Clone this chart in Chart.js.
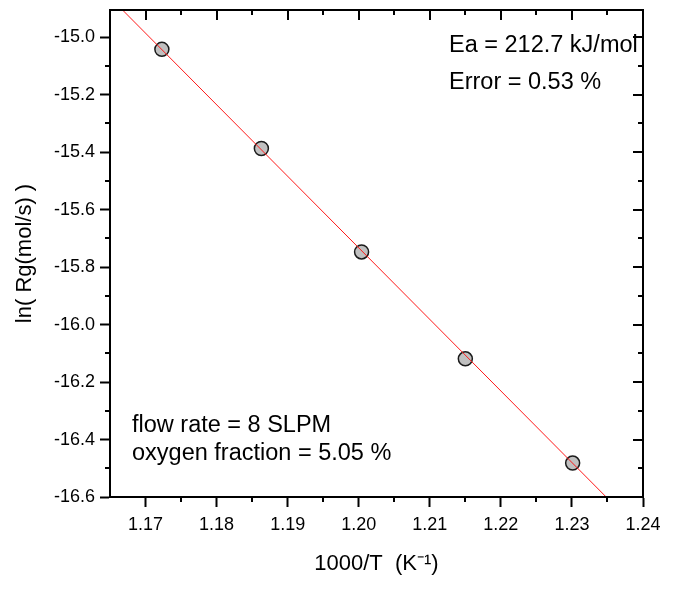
<!DOCTYPE html>
<html>
    <head>
        <title>Arrhenius plot</title>
        <meta charset="utf-8" />
        <script src="https://cdn.jsdelivr.net/npm/chart.js@4.4.0/dist/chart.umd.min.js"></script>
        <style>
            * {
                margin: 0;
                padding: 0;
                box-sizing: border-box;
            }
            body {
                background-color: #ffffff;
            }
        </style>
    </head>
    <body>

        <div style="position: relative; width: 689px; height: 614px;">
            <canvas id="myChart"></canvas>
        </div>

        <script>
            // measured points (1000/T, ln Rg)
            const invT = [1.1723, 1.1863, 1.2004, 1.2150, 1.2301];
            const lnRg = [-15.042, -15.387, -15.747, -16.119, -16.482];

            // fitted line, read at the two plot edges
            const fitX = [1.165, 1.24];
            const fitY = [-14.861, -16.729];

            const xTicks = [1.17, 1.18, 1.19, 1.20, 1.21, 1.22, 1.23, 1.24];
            const xMinor = [1.175, 1.185, 1.195, 1.205, 1.215, 1.225, 1.235];
            const yTicks = [-15.0, -15.2, -15.4, -15.6, -15.8, -16.0, -16.2, -16.4, -16.6];
            const yMinor = [-15.1, -15.3, -15.5, -15.7, -15.9, -16.1, -16.3, -16.5];

            const notesTopRight = ['Ea = 212.7 kJ/mol', 'Error = 0.53 %'];
            const notesBottomLeft = ['flow rate = 8 SLPM', 'oxygen fraction = 5.05 %'];

            const FONT = '"Liberation Sans", Arial, sans-serif';

            // box, inward ticks on top/right, minor ticks, and the text notes
            const framePlugin = {
                id: 'frame',
                afterDraw(chart) {
                    const {ctx, chartArea: a, scales: {x, y}} = chart;
                    ctx.save();
                    ctx.strokeStyle = '#000';
                    ctx.lineWidth = 2;
                    ctx.strokeRect(a.left, a.top, a.right - a.left, a.bottom - a.top);

                    ctx.beginPath();
                    xTicks.forEach(v => {
                        const px = Math.round(x.getPixelForValue(v));
                        ctx.moveTo(px, a.top); ctx.lineTo(px, a.top + 10);
                    });
                    xMinor.forEach(v => {
                        const px = Math.round(x.getPixelForValue(v));
                        ctx.moveTo(px, a.top); ctx.lineTo(px, a.top + 5);
                        ctx.moveTo(px, a.bottom); ctx.lineTo(px, a.bottom + 5);
                    });
                    yTicks.forEach(v => {
                        const py = Math.round(y.getPixelForValue(v));
                        ctx.moveTo(a.right, py); ctx.lineTo(a.right - 10, py);
                    });
                    yMinor.forEach(v => {
                        const py = Math.round(y.getPixelForValue(v));
                        ctx.moveTo(a.right, py); ctx.lineTo(a.right - 5, py);
                        ctx.moveTo(a.left, py); ctx.lineTo(a.left - 5, py);
                    });
                    ctx.stroke();

                    ctx.fillStyle = '#000';
                    ctx.font = '23.5px ' + FONT;
                    ctx.textBaseline = 'alphabetic';
                    notesTopRight.forEach((t, i) => ctx.fillText(t, a.left + 339, a.top + 42 + i * 37));
                    notesBottomLeft.forEach((t, i) => ctx.fillText(t, a.left + 22, a.top + 422 + i * 28));
                    ctx.restore();
                }
            };

            const chartConfig = {
                type: 'scatter',
                data: {
                    datasets: [{
                        label: 'fit',
                        data: fitX.map((v, i) => ({x: v, y: fitY[i]})),
                        showLine: true,
                        borderColor: 'rgb(255, 25, 25)',
                        backgroundColor: 'rgb(255, 25, 25)',
                        borderWidth: 1,
                        pointRadius: 0,
                        fill: false,
                        order: 0
                    }, {
                        label: 'data',
                        data: invT.map((v, i) => ({x: v, y: lnRg[i]})),
                        backgroundColor: '#c0c0c0',
                        borderColor: '#1a1a1a',
                        borderWidth: 1.5,
                        pointRadius: 7,
                        order: 1
                    }]
                },
                options: {
                    responsive: true,
                    maintainAspectRatio: false,
                    animation: false,
                    layout: {
                        padding: {left: 0, top: 10, right: 46, bottom: 0}
                    },
                    plugins: {
                        legend: {display: false},
                        tooltip: {enabled: false}
                    },
                    scales: {
                        x: {
                            type: 'linear',
                            min: 1.165,
                            max: 1.24,
                            afterBuildTicks: s => { s.ticks = xTicks.map(v => ({value: v})); },
                            afterFit: s => { s.height = 117; s.paddingLeft = 0; s.paddingRight = 0; },
                            grid: {drawOnChartArea: false, tickLength: 10, tickWidth: 2, tickColor: '#000'},
                            border: {color: '#000', width: 2},
                            ticks: {
                                padding: 7,
                                color: '#000',
                                font: {family: FONT, size: 18},
                                callback: v => v.toFixed(2)
                            },
                            title: {
                                display: true,
                                text: '1000/T  (K\u207B\u00B9)',
                                color: '#000',
                                font: {family: FONT, size: 22},
                                padding: 37
                            }
                        },
                        y: {
                            type: 'linear',
                            min: -16.6,
                            max: -14.905,
                            afterBuildTicks: s => { s.ticks = yTicks.map(v => ({value: v})); },
                            afterFit: s => { s.width = 110; s.paddingTop = 0; s.paddingBottom = 0; },
                            grid: {drawOnChartArea: false, tickLength: 10, tickWidth: 2, tickColor: '#000'},
                            border: {color: '#000', width: 2},
                            ticks: {
                                padding: 5,
                                color: '#000',
                                font: {family: FONT, size: 18},
                                callback: v => v.toFixed(1)
                            },
                            title: {
                                display: true,
                                text: 'ln( Rg(mol/s) )',
                                color: '#000',
                                font: {family: FONT, size: 22},
                                padding: 12
                            }
                        }
                    }
                },
                plugins: [framePlugin]
            };

            new Chart(document.getElementById('myChart'), chartConfig);
        </script>
    </body>
</html>
